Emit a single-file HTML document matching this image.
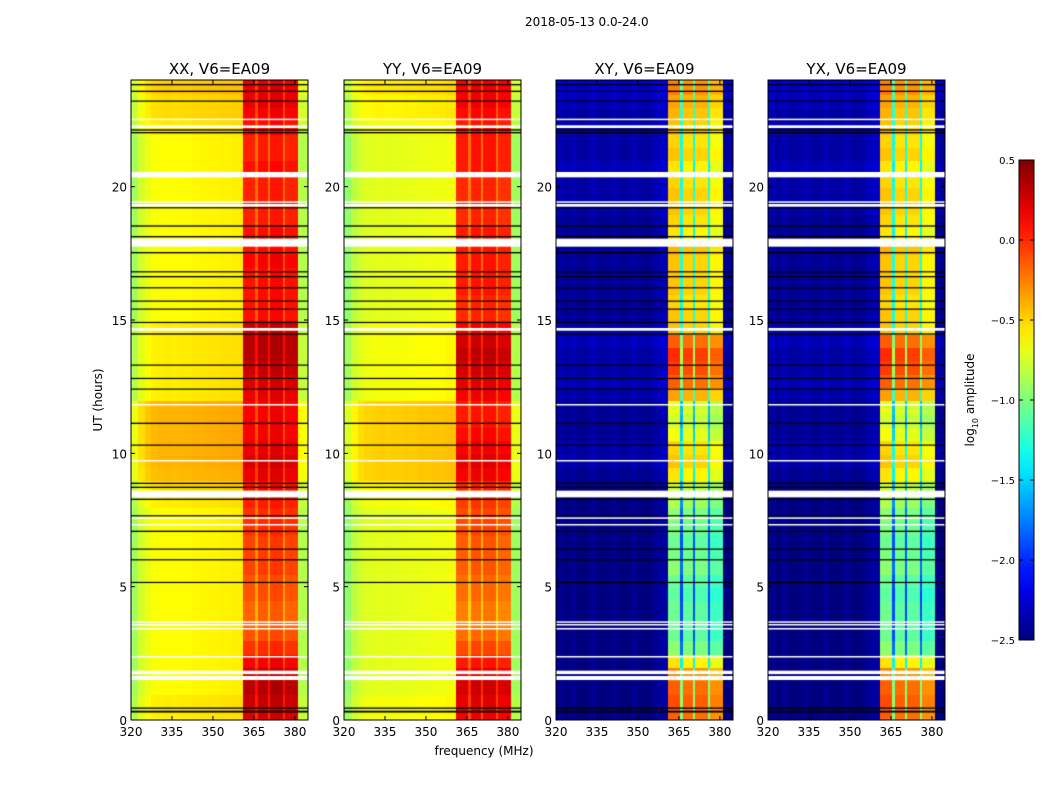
<!DOCTYPE html>
<html><head><meta charset="utf-8"><style>
body{margin:0;background:#fff;width:1050px;height:800px;overflow:hidden;font-family:"DejaVu Sans","Liberation Sans",sans-serif;}
#wrap{position:relative;width:1050px;height:800px;}
.t{position:absolute;font-size:12px;color:#000;white-space:nowrap;}
canvas{position:absolute;}
</style></head><body>
<div id="wrap">
<div class="t" style="left:525px;top:15px">2018-05-13 0.0-24.0</div>
<svg id="axes" width="1050" height="800" style="position:absolute;left:0;top:0"></svg>
</div>
<script>
// frequency bin starts (MHz)
const freqs=[320,322.5,325,327.5,330,332.5,335,337.5,340,342.5,345,347.5,350,352.5,355,357.5,361,365.5,366.5,370,371,375.5,376.5,381];
// time rows (start hour), 0.5 h rows
const hours=Array.from({length:48},(_,i)=>i*0.5);
const panelNames=["XX, V6=EA09","YY, V6=EA09","XY, V6=EA09","YX, V6=EA09"];
// per-panel frequency profiles (log10 amplitude baseline)
const freqXX=[-0.9,-0.75,-0.68,-0.64,-0.63,-0.62,-0.63,-0.62,-0.62,-0.61,-0.61,-0.6,-0.6,-0.59,-0.59,-0.58,-0.12,-0.35,-0.1,-0.35,-0.08,-0.35,-0.12,-0.85];
const freqYY=[-0.95,-0.82,-0.75,-0.72,-0.71,-0.7,-0.71,-0.7,-0.7,-0.69,-0.69,-0.68,-0.68,-0.67,-0.67,-0.66,-0.15,-0.4,-0.12,-0.4,-0.12,-0.4,-0.17,-0.9];
const freqXY=[-2.45,-2.5,-2.45,-2.5,-2.5,-2.45,-2.5,-2.5,-2.45,-2.5,-2.5,-2.45,-2.5,-2.5,-2.45,-2.4,-0.75,-1.6,-0.8,-1.6,-0.8,-1.6,-0.9,-2.5];
const freqYX=[-2.45,-2.5,-2.45,-2.5,-2.5,-2.45,-2.5,-2.5,-2.45,-2.5,-2.5,-2.45,-2.5,-2.5,-2.45,-2.4,-0.75,-1.6,-0.8,-1.6,-0.8,-1.6,-0.9,-2.5];
// band time modulation (added in the 361-381 MHz band)
const bandTimeXX=[0.35,0.4,0.45,0.4,0.25,0.1,0,-0.05,-0.05,0,0,0.05,0.05,0.05,0.1,0.1,0.15,0.2,0.3,0.35,0.3,0.25,0.25,0.25,0.3,0.35,0.4,0.45,0.45,0.4,0.2,0.2,0.2,0.2,0.25,0.2,0.2,0.15,0.15,0.15,0.15,0.2,0.15,0.15,0.2,0.25,0.3,0.3];
const bandTimeYY=[0.3,0.35,0.4,0.35,0.2,0.05,-0.05,-0.1,-0.1,-0.05,-0.05,0,0,0,0.05,0.05,0.1,0.15,0.3,0.35,0.3,0.25,0.2,0.2,0.3,0.35,0.4,0.45,0.4,0.3,0.15,0.15,0.2,0.2,0.2,0.2,0.2,0.15,0.15,0.15,0.15,0.2,0.2,0.2,0.2,0.25,0.3,0.3];
const bandTimeXY=[0.6,0.65,0.6,0.5,0.2,-0.2,-0.3,-0.3,-0.3,-0.35,-0.3,-0.2,-0.25,-0.3,-0.25,-0.2,-0.1,0,0.2,0.3,0.25,0.1,0.0,0.05,0.4,0.6,0.7,0.75,0.6,0.3,0.3,0.25,0.3,0.3,0.3,0.35,0.2,0.25,0.3,0.3,0.25,0.2,0.3,0.25,0.3,0.35,0.4,0.5];
const bandTimeYX=[0.6,0.65,0.6,0.5,0.2,-0.2,-0.3,-0.3,-0.3,-0.35,-0.3,-0.2,-0.25,-0.3,-0.25,-0.2,-0.1,0,0.2,0.3,0.25,0.1,0.0,0.05,0.4,0.6,0.7,0.75,0.6,0.3,0.3,0.25,0.3,0.3,0.3,0.35,0.2,0.25,0.3,0.3,0.25,0.2,0.3,0.25,0.3,0.35,0.4,0.5];
// background time modulation (outside band)
const bgTimeXX=[0.05,0.05,0,0,0,0,0,0,0,0,0,0,0,0,0,0,0.05,0.1,0.2,0.22,0.22,0.22,0.22,0.22,0.05,0.05,0.05,0.05,0.05,0.05,0.0,0.0,0.0,0.0,0.0,0,0,0,0,0,0,0,0,0,0.05,0.1,0.1,0.15];
const bgTimeYY=[0.05,0.05,0,0,0,0,0,0,0,0,0,0,0,0,0,0,0.05,0.1,0.22,0.22,0.22,0.22,0.22,0.22,0.05,0.05,0.05,0.05,0.05,0.05,0.0,0.0,0.0,0.0,0.0,0,0,0,0,0,0,0,0,0,0.05,0.1,0.1,0.15];
const bgTimeXY=[0,0,0,0,0,0,0,0,0,0,0,0,0,0,0,0,0,0,0.05,0.1,0.1,0.05,0.05,0.05,0.1,0.15,0.1,0.1,0.15,0.1,0.05,0.05,0.05,0.05,0.05,0.05,0.05,0.05,0.1,0.1,0.1,0.15,0.1,0.1,0.1,0.1,0.15,0.2];
const bgTimeYX=bgTimeXY.slice();
// flagged rows: [startHour, endHour]
const whiteFlags=[[1.5,1.65],[1.72,1.85],[2.35,2.4],[3.4,3.45],[3.55,3.6],[3.65,3.7],[7.3,7.35],[7.55,7.6],[8.35,8.6],[9.7,9.75],[11.8,11.85],[14.6,14.7],[17.75,18.05],[19.25,19.35],[19.4,19.45],[20.35,20.55],[22.2,22.3],[22.5,22.55]];
const blackFlags=[[0.28,0.35],[0.42,0.47],[5.15,5.18],[6.0,6.03],[6.4,6.43],[7.05,7.1],[7.65,7.68],[8.25,8.3],[8.7,8.75],[8.85,8.9],[10.3,10.33],[11.1,11.15],[12.4,12.43],[12.8,12.83],[13.3,13.33],[14.45,14.5],[14.9,14.93],[15.4,15.43],[15.7,15.73],[16.2,16.23],[16.6,16.65],[16.8,16.83],[17.5,17.55],[18.1,18.15],[18.5,18.55],[19.2,19.23],[22.0,22.05],[22.1,22.15],[23.2,23.23],[23.55,23.6],[23.8,23.85]];
// colorbar ticks
const cbTicks=[0.5,0.0,-0.5,-1.0,-1.5,-2.0,-2.5];
const xTicks=[320,335,350,365,380];
const yTicks=[0,5,10,15,20];

const panelX=[131,344,556,768], PW=177, PT=80, PB=720;
const FMIN=320,FMAX=384.8,VMIN=-2.5,VMAX=0.5;
const xs=(px,f)=>px+(f-FMIN)/(FMAX-FMIN)*PW;
const ys=h=>PB-(h/24)*(PB-PT);
function jet(v){let t=(v-VMIN)/(VMAX-VMIN);t=Math.max(0,Math.min(1,t));
 const r=Math.max(0,Math.min(1,1.5-Math.abs(4*t-3))),g=Math.max(0,Math.min(1,1.5-Math.abs(4*t-2))),b=Math.max(0,Math.min(1,1.5-Math.abs(4*t-1)));
 return `rgb(${r*255|0},${g*255|0},${b*255|0})`;}
const F=[freqXX,freqYY,freqXY,freqYX],BT=[bandTimeXX,bandTimeYY,bandTimeXY,bandTimeYX],GT=[bgTimeXX,bgTimeYY,bgTimeXY,bgTimeYX];
const wrap=document.getElementById('wrap');
const svg=document.getElementById('axes');
const NS="http://www.w3.org/2000/svg";
function mk(tag,attrs,parent){const e=document.createElementNS(NS,tag);for(const k in attrs)e.setAttribute(k,attrs[k]);(parent||svg).appendChild(e);return e;}
for(let p=0;p<4;p++){
 const px=panelX[p];
 const c=document.createElement('canvas');c.width=PW;c.height=PB-PT;c.style.left=px+'px';c.style.top=PT+'px';
 
 
 wrap.insertBefore(c,svg);
 const ctx=c.getContext('2d');
 for(let t=0;t<hours.length;t++){for(let f=0;f<freqs.length;f++){
   const inBand=freqs[f]>=361&&freqs[f]<381;
   const v=F[p][f]+(inBand?BT[p][t]:GT[p][t]);
   ctx.fillStyle=jet(v);
   const fEnd=f<freqs.length-1?freqs[f+1]:FMAX;
   const x0=xs(0,freqs[f]),x1=xs(0,fEnd);
   const y0=ys(hours[t]+0.5)-PT,y1=ys(hours[t])-PT;
   ctx.fillRect(Math.round(x0),Math.floor(y0),Math.max(1,Math.round(x1)-Math.round(x0)),Math.ceil(y1-y0)+1);}}
 whiteFlags.forEach(fl=>{ctx.fillStyle='#fff';const y0=ys(fl[1])-PT,y1=ys(fl[0])-PT;ctx.fillRect(0,y0,PW,Math.max(1.5,y1-y0));});
 blackFlags.forEach(fl=>{ctx.fillStyle='#000';const y0=ys(fl[1])-PT,y1=ys(fl[0])-PT;ctx.fillRect(0,y0,PW,Math.max(1.2,y1-y0));});
 const fr=mk('rect',{x:px,y:PT,width:PW,height:PB-PT,fill:'none',stroke:'#000','stroke-width':1});
 
 
 const tt=mk('text',{x:px+PW/2,y:74,'text-anchor':'middle','font-size':15});tt.textContent=panelNames[p];
 
 
 xTicks.forEach(v=>{const x=xs(px,v);mk('line',{x1:x,x2:x,y1:PB,y2:PB-4,stroke:'#000'});mk('line',{x1:x,x2:x,y1:PT,y2:PT+4,stroke:'#000'});
  const l=mk('text',{x:x,y:PB+16,'text-anchor':'middle','font-size':12});l.textContent=v;
  
  });
 yTicks.forEach(v=>{const y=ys(v);mk('line',{x1:px,x2:px+4,y1:y,y2:y,stroke:'#000'});mk('line',{x1:px+PW,x2:px+PW-4,y1:y,y2:y,stroke:'#000'});
  const l=mk('text',{x:px-4,y:y+5,'text-anchor':'end','font-size':12});l.textContent=v;
  
  });
}
const xl=mk('text',{x:484,y:755,'text-anchor':'middle','font-size':12});xl.textContent='frequency (MHz)';


const yl=mk('text',{x:102,y:400,'text-anchor':'middle','font-size':12,transform:'rotate(-90 102 400)'});yl.textContent='UT (hours)';


// colorbar
const CBX=1019,CBW=15,CBT=160,CBB=640;
const defs=mk('defs',{});const lg=mk('linearGradient',{id:'jetg',x1:0,y1:1,x2:0,y2:0},defs);
for(let i=0;i<=20;i++){mk('stop',{offset:i/20,'stop-color':jet(VMIN+(VMAX-VMIN)*i/20)},lg);}
const cb=mk('rect',{x:CBX,y:CBT,width:CBW,height:CBB-CBT,fill:'url(#jetg)',stroke:'#000'});


cbTicks.forEach(v=>{const y=CBB-(v-VMIN)/(VMAX-VMIN)*(CBB-CBT);
 mk('line',{x1:CBX,x2:CBX+4,y1:y,y2:y,stroke:'#000'});mk('line',{x1:CBX+CBW,x2:CBX+CBW-4,y1:y,y2:y,stroke:'#000'});
 const l=mk('text',{x:CBX-4,y:y+4,'text-anchor':'end','font-size':10});l.textContent=v.toFixed(1).replace('-','\u2212');
 
 });
const cl=mk('text',{x:974,y:400,'text-anchor':'middle','font-size':12,transform:'rotate(-90 974 400)'});
cl.innerHTML='log<tspan font-size="8" dy="4">10</tspan><tspan dy="-4"> amplitude</tspan>';


</script>
</body></html>
